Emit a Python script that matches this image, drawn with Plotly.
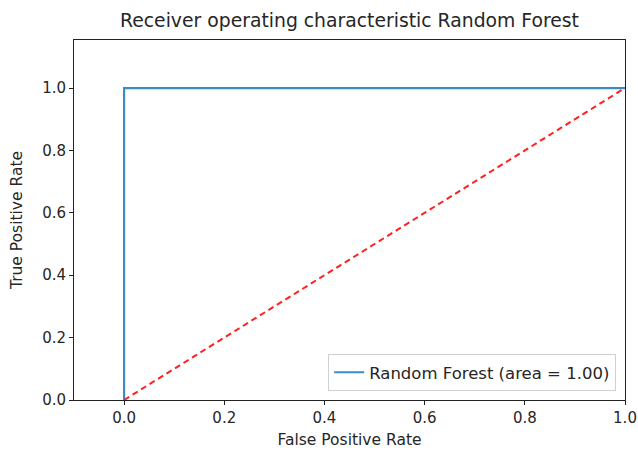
import plotly.graph_objects as go

fpr = [0.0, 0.0, 1.0]
tpr = [0.0, 1.0, 1.0]
diag_x = [0.0, 1.0]
diag_y = [0.0, 1.0]
x_ticks = [0.0, 0.2, 0.4, 0.6, 0.8, 1.0]
y_ticks = [0.0, 0.2, 0.4, 0.6, 0.8, 1.0]
series_name = "Random Forest (area = 1.00)"
title = "Receiver operating characteristic Random Forest"

fig = go.Figure()
fig.add_trace(go.Scatter(x=fpr, y=tpr, mode="lines", name=series_name,
                         line=dict(color="#3d8bc4", width=2.2)))
fig.add_trace(go.Scatter(x=diag_x, y=diag_y, mode="lines", showlegend=False,
                         line=dict(color="#ff2020", width=2, dash="6px,4px")))

W, H = 638, 451
font = "DejaVu Sans, sans-serif"
txt = "#262626"
axis_common = dict(showgrid=False, zeroline=False, showline=True, linecolor="#222",
                   linewidth=1, mirror=True, ticks="outside", ticklen=4, tickcolor="#222",
                   automargin=False,
                   tickfont=dict(family=font, size=15, color=txt))
fig.update_layout(
    width=W, height=H,
    margin=dict(l=74, r=13, t=40, b=51, autoexpand=False),
    paper_bgcolor="white", plot_bgcolor="white",
    title=dict(text=title, x=0.5, xanchor="center", xref="paper",
               y=1 - 20 / H, yref="container", yanchor="middle",
               font=dict(family=font, size=18.8, color=txt)),
    xaxis=dict(range=[-0.1, 1.0], tickvals=x_ticks, ticktext=[f"{v:.1f}" for v in x_ticks],
               title=dict(text="False Positive Rate", font=dict(family=font, size=15.5, color=txt), standoff=8),
               **axis_common),
    yaxis=dict(range=[0.0, 1.154], tickvals=y_ticks, ticktext=[f"{v:.1f}" for v in y_ticks],
               title=dict(text="True Positive Rate", font=dict(family=font, size=15.5, color=txt), standoff=15),
               **axis_common),
    legend=dict(x=0.984, y=0.025, xanchor="right", yanchor="bottom",
                bordercolor="#d0d0d0", borderwidth=1, bgcolor="rgba(255,255,255,0.8)",
                font=dict(family=font, size=16.5, color=txt)),
    showlegend=True,
)
fig.write_html("out.html", config={"displayModeBar": False},
               post_script="document.body.style.margin='0';document.body.style.overflow='hidden';")
